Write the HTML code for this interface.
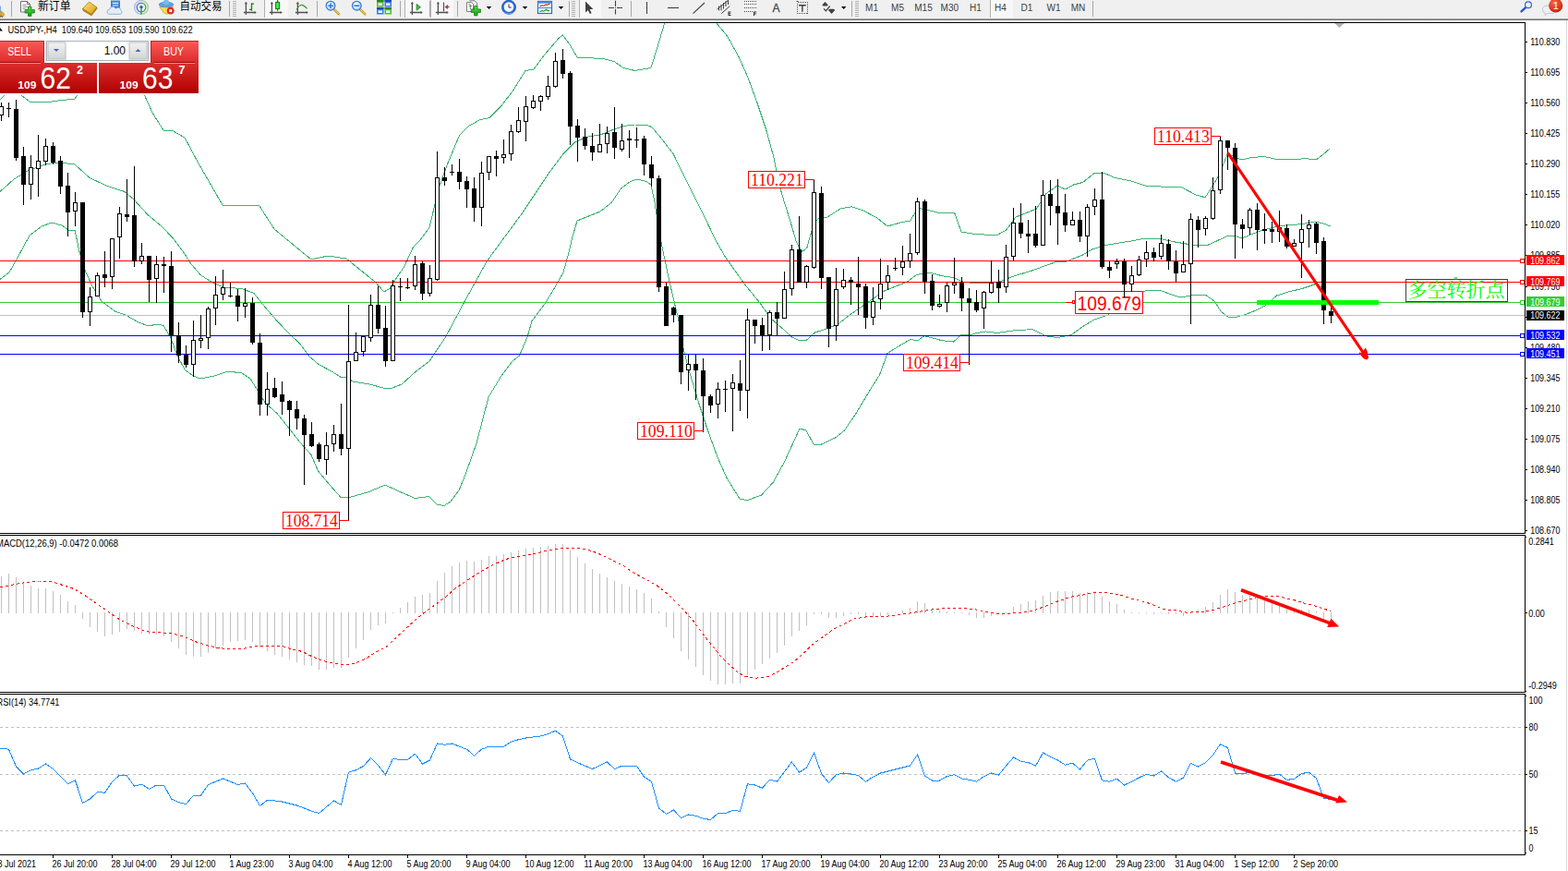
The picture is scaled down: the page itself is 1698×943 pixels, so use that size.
<!DOCTYPE html><html><head><meta charset="utf-8"><title>USDJPY H4</title>
<style>html,body{margin:0;padding:0;background:#fff;overflow:hidden}body{width:1698px;height:943px;position:relative;font-family:"Liberation Sans",sans-serif}svg{position:absolute;left:0;top:0;display:block}text{white-space:pre}</style>
</head><body>
<svg width="1698" height="943" viewBox="0 0 1698 943">
<defs>
<clipPath id="cpMain"><rect x="0" y="25" width="1651" height="552"/></clipPath>
<clipPath id="cpMacd"><rect x="0" y="580" width="1651" height="169"/></clipPath>
<clipPath id="cpRsi"><rect x="0" y="752" width="1651" height="173"/></clipPath>
<linearGradient id="gBtn" x1="0" y1="0" x2="0" y2="1"><stop offset="0" stop-color="#fb5a5a"/><stop offset="1" stop-color="#dc2b2b"/></linearGradient>
<linearGradient id="gBig" x1="0" y1="0" x2="0" y2="1"><stop offset="0" stop-color="#dc2e2e"/><stop offset="1" stop-color="#b00000"/></linearGradient>
<linearGradient id="gSpin" x1="0" y1="0" x2="0" y2="1"><stop offset="0" stop-color="#f2f2f2"/><stop offset="1" stop-color="#d4d4d4"/></linearGradient>
<linearGradient id="gTb" x1="0" y1="0" x2="0" y2="1"><stop offset="0" stop-color="#c0c0c0"/><stop offset="1" stop-color="#5a5a5a"/></linearGradient>

<linearGradient id="gGreen" x1="0" y1="0" x2="0" y2="1"><stop offset="0" stop-color="#5fe04a"/><stop offset="1" stop-color="#12a012"/></linearGradient>
<linearGradient id="gYel" x1="0" y1="0" x2="1" y2="1"><stop offset="0" stop-color="#ffe680"/><stop offset="1" stop-color="#d79a10"/></linearGradient>
<linearGradient id="gBlue" x1="0" y1="0" x2="0" y2="1"><stop offset="0" stop-color="#5aa8f0"/><stop offset="1" stop-color="#1858c8"/></linearGradient>
<radialGradient id="gLens" cx=".4" cy=".35" r=".7"><stop offset="0" stop-color="#ffffff"/><stop offset="1" stop-color="#a8d4f8"/></radialGradient>
<radialGradient id="gRed" cx=".4" cy=".3" r=".8"><stop offset="0" stop-color="#f46a4a"/><stop offset="1" stop-color="#c81808"/></radialGradient>

</defs>
<rect width="1698" height="943" fill="#fff"/>
<g clip-path="url(#cpMain)">
<polyline points="0.0,108.0 5.0,103.0 14.0,98.0 23.0,103.0 33.0,110.5 52.0,110.5 67.0,108.5 81.0,107.0 84.0,103.0 100.0,92.0 140.0,92.0 156.0,102.0 165.0,122.0 177.0,141.0 186.0,141.0 200.0,149.0 215.0,177.0 241.0,222.0 281.0,223.0 297.0,248.0 337.0,281.0 355.0,277.0 375.0,280.0 406.0,305.0 416.0,316.0 424.0,311.0 425.0,307.5 437.5,289.0 447.5,267.5 455.0,260.0 465.0,246.5 475.0,204.0 485.0,176.5 497.5,146.5 507.5,136.5 520.0,129.5 530.0,127.7 542.5,115.0 555.0,99.0 569.0,76.5 578.0,75.0 590.0,59.0 605.0,41.5 609.5,38.0 617.5,49.0 625.0,62.0 637.5,62.7 652.5,63.5 665.0,66.5 675.0,73.5 687.5,76.5 705.0,73.5 712.5,49.0 720.0,24.0 730.0,0.0 765.0,0.0 775.0,24.0 787.5,39.0 800.0,61.5 810.0,84.0 820.0,111.5 830.0,141.5 837.5,169.0 845.0,204.0 850.0,221.0 856.0,240.0 862.5,262.5 868.7,272.5 873.7,268.7 877.5,255.0 882.5,240.0 887.5,236.0 896.0,235.0 910.0,226.0 922.5,223.7 935.0,228.0 950.0,236.0 961.0,245.0 975.0,241.0 986.0,239.0 993.7,225.0 1002.5,227.0 1015.0,230.0 1033.7,230.7 1041.0,251.0 1057.5,253.7 1080.0,254.5 1090.0,248.7 1100.0,235.0 1112.5,230.0 1122.5,226.0 1132.5,210.0 1145.0,201.0 1153.7,205.0 1162.5,200.0 1172.5,197.5 1185.0,187.5 1195.0,187.0 1207.5,192.5 1225.0,196.0 1240.0,201.0 1265.0,202.5 1280.0,203.0 1295.0,211.0 1305.0,213.7 1312.5,202.5 1320.0,190.0 1329.5,166.0 1338.7,171.0 1345.0,173.0 1355.0,170.5 1368.7,169.5 1382.5,172.5 1400.0,172.5 1415.0,171.7 1425.0,173.0 1432.5,167.5 1440.5,160.5" fill="none" stroke="#3cb371" stroke-width="1" shape-rendering="crispEdges"/>
<polyline points="0.0,207.5 15.0,194.0 30.0,185.0 50.0,177.5 65.0,176.0 81.0,178.0 97.0,192.5 115.0,201.0 135.0,207.5 145.0,216.0 160.0,232.5 175.0,245.0 187.0,257.5 200.0,275.0 207.0,286.0 217.0,297.5 230.0,306.0 242.0,311.0 262.0,312.5 275.0,317.5 287.0,332.5 300.0,347.5 312.0,360.0 325.0,372.5 335.0,386.0 345.0,394.5 360.0,402.5 370.0,409.0 375.0,408.7 382.0,413.0 400.0,416.0 415.0,420.0 425.0,420.0 435.0,416.0 450.0,402.5 465.0,391.0 482.5,365.0 502.5,327.5 515.0,305.0 527.5,282.5 544.0,260.0 565.0,231.5 580.0,209.0 595.0,186.5 610.0,166.5 622.5,154.0 637.5,147.7 650.0,146.0 665.0,140.0 675.0,136.5 687.5,135.0 700.0,135.0 706.0,137.7 717.5,151.5 729.0,166.5 740.0,189.0 750.0,209.0 762.5,234.0 775.0,260.0 785.0,277.5 805.0,306.0 822.5,327.5 835.0,345.0 849.5,357.5 857.5,365.0 866.0,369.0 873.7,368.0 882.5,360.0 895.0,356.0 907.5,351.0 920.0,341.0 932.5,332.5 945.0,323.7 957.5,315.0 970.0,310.0 982.5,305.0 992.5,297.5 1002.5,295.5 1010.0,296.0 1020.0,298.7 1032.5,300.5 1042.5,305.0 1057.5,307.0 1070.0,306.7 1082.5,305.0 1092.5,301.0 1102.5,297.5 1117.5,293.0 1132.5,287.5 1145.0,283.0 1153.7,283.7 1162.5,280.0 1172.5,276.0 1182.5,270.0 1195.0,266.0 1207.5,263.7 1225.0,261.0 1240.0,258.0 1257.5,258.7 1272.5,262.0 1287.5,264.5 1297.5,266.0 1307.5,265.5 1317.5,261.0 1330.0,255.0 1338.7,256.0 1345.0,258.0 1355.0,253.7 1368.7,248.7 1380.0,246.0 1392.5,244.0 1405.0,243.0 1415.0,241.7 1425.0,240.0 1432.5,241.7 1440.5,245.0" fill="none" stroke="#3cb371" stroke-width="1" shape-rendering="crispEdges"/>
<polyline points="0.0,302.5 10.0,295.0 19.0,279.0 32.0,255.0 45.0,245.0 56.0,241.0 67.0,244.0 74.0,249.0 81.0,249.0 86.0,272.5 92.0,292.5 100.0,310.0 110.0,326.0 125.0,337.5 136.0,341.0 150.0,349.0 161.0,353.0 170.0,351.0 177.0,352.5 185.0,366.0 192.0,385.0 200.0,400.0 209.0,407.0 217.0,410.0 232.0,407.0 247.0,402.0 262.0,404.0 271.0,410.0 279.0,422.5 287.0,436.0 300.0,447.5 312.0,462.5 325.0,479.0 337.0,492.5 344.5,510.0 357.0,525.0 369.5,539.0 378.0,538.7 399.5,532.5 417.0,525.0 434.5,533.0 449.5,539.5 464.5,537.5 473.0,546.0 481.0,547.5 488.0,543.0 497.0,531.0 504.5,512.5 516.0,480.0 529.0,430.0 542.5,407.5 555.0,391.0 562.5,385.0 571.0,365.0 576.0,347.5 590.0,329.0 600.0,312.5 610.0,295.0 617.5,267.5 619.0,260.0 625.0,239.0 637.5,234.0 650.0,229.0 662.5,219.0 672.5,204.0 682.5,196.5 690.0,194.0 700.0,196.5 705.0,200.0 709.0,219.0 715.0,257.5 725.0,305.0 735.0,347.5 740.0,377.5 747.0,404.0 757.0,437.5 767.0,467.5 777.0,495.0 787.0,517.5 801.0,540.0 809.5,541.7 824.5,536.0 837.0,522.5 849.5,500.0 866.0,464.0 873.0,466.0 881.0,481.0 889.5,481.0 904.5,474.0 914.5,466.0 927.0,447.5 942.0,422.5 952.5,406.0 961.0,382.5 975.0,373.7 986.0,367.5 993.7,368.7 1001.0,363.7 1010.0,366.0 1020.0,368.7 1032.5,370.0 1041.0,362.5 1050.0,363.0 1057.5,360.5 1067.5,359.0 1080.0,360.5 1090.0,359.0 1100.0,357.5 1118.7,356.7 1132.5,363.7 1145.0,365.7 1160.0,362.5 1172.5,353.7 1185.0,346.0 1200.0,341.0 1212.5,330.0 1225.0,320.0 1240.0,315.0 1255.0,314.0 1265.0,317.5 1277.5,322.0 1290.0,320.0 1305.0,319.0 1315.0,326.0 1322.5,337.5 1330.0,343.0 1340.0,343.0 1350.0,340.0 1360.0,336.0 1370.0,331.0 1382.5,320.0 1395.0,316.0 1410.0,312.5 1425.0,307.5 1431.0,311.0" fill="none" stroke="#3cb371" stroke-width="1" shape-rendering="crispEdges"/>
<rect x="0" y="282" width="1651" height="1" fill="#ff0000"/>
<rect x="0" y="305" width="1651" height="1" fill="#ff0000"/>
<rect x="0" y="327" width="1651" height="1" fill="#32cd32"/>
<rect x="0" y="341" width="1651" height="1" fill="#c0c0c0"/>
<rect x="0" y="363" width="1651" height="1" fill="#0000ff"/>
<rect x="0" y="383" width="1651" height="1" fill="#0000ff"/>
<rect x="1154" y="327" width="10" height="1" fill="#ff0000"/>
<rect x="1164.5" y="315.5" width="73" height="24" fill="#fff" stroke="#ff0000" stroke-width="1" shape-rendering="crispEdges"/>
<text x="1166.6" y="336" font-family="Liberation Sans, sans-serif" font-size="22" fill="#ff0000" textLength="69.3" lengthAdjust="spacingAndGlyphs">109.679</text>
<rect x="1161.5" y="325.5" width="2" height="3" fill="#fff" stroke="#ff0000" stroke-width="1" shape-rendering="crispEdges"/>
<g shape-rendering="crispEdges">
<path d="M1 111v20M9 111v16M17 108v66M25 159v63M33 168v48M41 146v67M49 150v29M57 154v24M65 169v41M73 187v69M81 208v37M89 219v125M97 311v42M105 295v26M113 272v39M121 258v55M129 224v56M137 194v46M145 180v109M153 263v23M161 277v50M169 277v51M177 278v39M185 272v109M193 349v44M201 374v24M209 347v61M217 341v36M225 332v46M233 299v53M241 292v33M249 306v16M257 313v35M265 312v32M273 322v51M281 361v89M289 403v47M297 409v22M305 413v36M313 433v39M321 434v31M329 449v76M337 457v27M345 479v21M353 468v46M361 460v29M369 437v56M377 330v234M385 360v31M393 364v22M401 319v51M409 310v51M417 331v66M425 303v88M433 301v25M441 301v12M449 277v37M457 283v42M465 287v34M473 164v140M481 181v20M489 178v12M497 172v33M505 191v34M513 192v48M521 175v70M529 169v26M537 163v28M545 151v26M553 135v39M561 116v28M569 104v49M577 103v15M585 103v17M593 82v26M601 57v38M609 53v32M617 77v80M625 129v46M633 139v23M641 144v30M649 134v31M657 137v29M665 116v56M673 134v30M681 141v30M689 138v22M697 147v43M705 169v33M713 190v126M721 306v47M729 332v17M737 341v75M745 384v39M753 384v49M761 388v80M769 427v20M777 414v39M785 412v34M793 405v62M801 390v55M809 334v119M817 346v26M825 344v36M833 336v43M841 327v36M849 294v51M857 265v55M865 234v72M873 287v25M881 194v97M889 202v111M897 300v76M905 290v79M913 291v22M921 300v30M929 278v63M937 307v49M945 311v41M953 280v55M961 287v27M969 279v14M977 266v32M985 253v37M993 214v62M1001 216v102M1009 297v39M1017 319v14M1025 306v32M1033 279v39M1041 300v37M1049 312v83M1057 314v24M1065 315v41M1073 282v36M1081 292v36M1089 265v52M1097 225v58M1105 220v38M1113 238v36M1121 223v45M1129 195v71M1137 195v49M1145 194v71M1153 210v41M1161 229v15M1169 229v33M1177 221v57M1185 204v29M1193 186v105M1201 283v18M1209 280v11M1217 280v42M1225 288v28M1233 277v22M1241 261v28M1249 268v15M1257 254v27M1265 259v33M1273 271v34M1281 261v34M1289 231v120M1297 234v34M1305 234v21M1313 192v46M1321 147v63M1329 152v32M1337 155v125M1345 237v32M1353 225v29M1361 220v51M1369 231v33M1377 240v23M1385 228v34M1393 243v26M1401 259v8M1409 232v69M1417 238v30M1425 240v35M1433 257v94M1441 333v17" stroke="#000" stroke-width="1" fill="none" transform="translate(0.5,0)"/>
<path d="M7 117h5v1h-5zM15 118h5v53h-5zM23 169h5v31h-5zM55 158h5v18h-5zM63 174h5v28h-5zM71 201h5v29h-5zM87 219h5v119h-5zM111 297h5v4h-5zM135 232h5v3h-5zM143 233h5v50h-5zM159 277h5v26h-5zM175 286h5v2h-5zM183 288h5v75h-5zM191 363h5v22h-5zM199 384h5v11h-5zM247 320h5v1h-5zM255 320h5v12h-5zM271 328h5v43h-5zM279 371h5v67h-5zM295 420h5v10h-5zM303 427h5v8h-5zM311 434h5v10h-5zM319 443h5v10h-5zM327 453h5v18h-5zM335 470h5v13h-5zM343 481h5v16h-5zM367 470h5v16h-5zM407 330h5v26h-5zM415 355h5v36h-5zM431 310h5v1h-5zM439 311h5v1h-5zM455 285h5v33h-5zM479 192h5v4h-5zM487 186h5v1h-5zM495 186h5v11h-5zM503 196h5v9h-5zM511 204h5v21h-5zM535 169h5v3h-5zM607 65h5v15h-5zM615 79h5v58h-5zM623 136h5v13h-5zM631 148h5v10h-5zM639 158h5v7h-5zM663 143h5v17h-5zM679 150h5v2h-5zM687 151h5v1h-5zM695 150h5v28h-5zM703 178h5v15h-5zM711 193h5v118h-5zM719 310h5v43h-5zM727 333h5v8h-5zM735 341h5v62h-5zM751 394h5v7h-5zM759 401h5v28h-5zM767 429h5v10h-5zM783 421h5v1h-5zM799 415h5v8h-5zM815 346h5v7h-5zM823 352h5v11h-5zM839 338h5v7h-5zM863 270h5v36h-5zM887 209h5v92h-5zM895 300h5v56h-5zM919 303h5v3h-5zM927 307h5v4h-5zM935 310h5v34h-5zM967 290h5v1h-5zM999 218h5v87h-5zM1007 304h5v27h-5zM1039 306h5v17h-5zM1047 323h5v5h-5zM1055 327h5v9h-5zM1079 305h5v7h-5zM1103 241h5v12h-5zM1111 253h5v3h-5zM1119 253h5v13h-5zM1135 210h5v13h-5zM1143 223h5v8h-5zM1151 230h5v14h-5zM1167 238h5v18h-5zM1191 216h5v73h-5zM1199 289h5v4h-5zM1215 283h5v25h-5zM1247 273h5v6h-5zM1263 264h5v19h-5zM1271 283h5v13h-5zM1295 238h5v11h-5zM1327 152h5v8h-5zM1335 160h5v83h-5zM1343 243h5v5h-5zM1359 227h5v22h-5zM1367 248h5v2h-5zM1375 248h5v3h-5zM1391 247h5v20h-5zM1423 242h5v21h-5zM1431 261h5v75h-5zM1439 337h5v5h-5z" fill="#000"/>
<path d="M-1 115h5v10h-5zM31 181h5v19h-5zM39 174h5v9h-5zM47 158h5v17h-5zM79 219h5v10h-5zM95 321h5v17h-5zM103 298h5v23h-5zM119 258h5v42h-5zM127 231h5v26h-5zM151 277h5v6h-5zM167 286h5v16h-5zM207 368h5v27h-5zM215 366h5v3h-5zM223 334h5v32h-5zM231 319h5v15h-5zM239 311h5v8h-5zM263 328h5v4h-5zM287 421h5v17h-5zM351 482h5v16h-5zM359 470h5v11h-5zM375 391h5v95h-5zM383 381h5v10h-5zM391 364h5v17h-5zM399 330h5v36h-5zM423 309h5v82h-5zM447 286h5v24h-5zM463 301h5v17h-5zM471 192h5v111h-5zM519 187h5v38h-5zM527 169h5v18h-5zM543 167h5v4h-5zM551 142h5v25h-5zM559 130h5v13h-5zM567 115h5v17h-5zM575 109h5v8h-5zM583 104h5v6h-5zM591 93h5v12h-5zM599 66h5v28h-5zM647 156h5v9h-5zM655 144h5v12h-5zM671 152h5v10h-5zM743 394h5v7h-5zM775 421h5v17h-5zM791 414h5v7h-5zM807 346h5v77h-5zM831 338h5v25h-5zM847 313h5v32h-5zM855 270h5v43h-5zM871 288h5v18h-5zM879 208h5v82h-5zM903 313h5v40h-5zM911 303h5v8h-5zM943 326h5v18h-5zM951 307h5v17h-5zM959 298h5v8h-5zM975 283h5v7h-5zM983 274h5v9h-5zM991 218h5v56h-5zM1015 329h5v3h-5zM1023 309h5v19h-5zM1031 306h5v3h-5zM1063 316h5v18h-5zM1071 306h5v11h-5zM1087 278h5v33h-5zM1095 241h5v37h-5zM1127 211h5v55h-5zM1159 238h5v6h-5zM1175 224h5v32h-5zM1183 216h5v8h-5zM1207 283h5v3h-5zM1223 298h5v10h-5zM1231 281h5v17h-5zM1239 273h5v8h-5zM1255 263h5v15h-5zM1279 286h5v9h-5zM1287 237h5v49h-5zM1303 236h5v12h-5zM1311 206h5v31h-5zM1319 152h5v54h-5zM1351 227h5v20h-5zM1383 246h5v5h-5zM1399 263h5v4h-5zM1407 248h5v15h-5zM1415 243h5v5h-5z" fill="#000"/>
<path d="M0 116h3v8h-3zM32 182h3v17h-3zM40 175h3v7h-3zM48 159h3v15h-3zM80 220h3v8h-3zM96 322h3v15h-3zM104 299h3v21h-3zM120 259h3v40h-3zM128 232h3v24h-3zM152 278h3v4h-3zM168 287h3v14h-3zM208 369h3v25h-3zM216 367h3v1h-3zM224 335h3v30h-3zM232 320h3v13h-3zM240 312h3v6h-3zM264 329h3v2h-3zM288 422h3v15h-3zM352 483h3v14h-3zM360 471h3v9h-3zM376 392h3v93h-3zM384 382h3v8h-3zM392 365h3v15h-3zM400 331h3v34h-3zM424 310h3v80h-3zM448 287h3v22h-3zM464 302h3v15h-3zM472 193h3v109h-3zM520 188h3v36h-3zM528 170h3v16h-3zM544 168h3v2h-3zM552 143h3v23h-3zM560 131h3v11h-3zM568 116h3v15h-3zM576 110h3v6h-3zM584 105h3v4h-3zM592 94h3v10h-3zM600 67h3v26h-3zM648 157h3v7h-3zM656 145h3v10h-3zM672 153h3v8h-3zM744 395h3v5h-3zM776 422h3v15h-3zM792 415h3v5h-3zM808 347h3v75h-3zM832 339h3v23h-3zM848 314h3v30h-3zM856 271h3v41h-3zM872 289h3v16h-3zM880 209h3v80h-3zM904 314h3v38h-3zM912 304h3v6h-3zM944 327h3v16h-3zM952 308h3v15h-3zM960 299h3v6h-3zM976 284h3v5h-3zM984 275h3v7h-3zM992 219h3v54h-3zM1016 330h3v1h-3zM1024 310h3v17h-3zM1032 307h3v1h-3zM1064 317h3v16h-3zM1072 307h3v9h-3zM1088 279h3v31h-3zM1096 242h3v35h-3zM1128 212h3v53h-3zM1160 239h3v4h-3zM1176 225h3v30h-3zM1184 217h3v6h-3zM1208 284h3v1h-3zM1224 299h3v8h-3zM1232 282h3v15h-3zM1240 274h3v6h-3zM1256 264h3v13h-3zM1280 287h3v7h-3zM1288 238h3v47h-3zM1304 237h3v10h-3zM1312 207h3v29h-3zM1320 153h3v52h-3zM1352 228h3v18h-3zM1384 247h3v3h-3zM1400 264h3v2h-3zM1408 249h3v13h-3zM1416 244h3v3h-3z" fill="#fff"/>
</g>
</g>
<rect x="306.5" y="554.5" width="61" height="18" fill="#fff" stroke="#ff0000" stroke-width="1" shape-rendering="crispEdges"/>
<text x="309.0" y="570.0" font-family="Liberation Serif, serif" font-size="19.5" fill="#ff0000" textLength="56.8" lengthAdjust="spacingAndGlyphs">108.714</text>
<rect x="368" y="563" width="10" height="1" fill="#ff0000"/>
<rect x="690.5" y="457.5" width="61" height="18" fill="#fff" stroke="#ff0000" stroke-width="1" shape-rendering="crispEdges"/>
<text x="693.0" y="473.0" font-family="Liberation Serif, serif" font-size="19.5" fill="#ff0000" textLength="56.8" lengthAdjust="spacingAndGlyphs">109.110</text>
<rect x="752" y="466" width="10" height="1" fill="#ff0000"/>
<rect x="810.5" y="185.5" width="61" height="18" fill="#fff" stroke="#ff0000" stroke-width="1" shape-rendering="crispEdges"/>
<text x="813.0" y="201.0" font-family="Liberation Serif, serif" font-size="19.5" fill="#ff0000" textLength="56.8" lengthAdjust="spacingAndGlyphs">110.221</text>
<rect x="872" y="194" width="10" height="1" fill="#ff0000"/>
<rect x="978.5" y="383.5" width="61" height="18" fill="#fff" stroke="#ff0000" stroke-width="1" shape-rendering="crispEdges"/>
<text x="981.0" y="399.0" font-family="Liberation Serif, serif" font-size="19.5" fill="#ff0000" textLength="56.8" lengthAdjust="spacingAndGlyphs">109.414</text>
<rect x="1040" y="392" width="10" height="1" fill="#ff0000"/>
<rect x="1250.5" y="138.5" width="61" height="18" fill="#fff" stroke="#ff0000" stroke-width="1" shape-rendering="crispEdges"/>
<text x="1253.0" y="154.0" font-family="Liberation Serif, serif" font-size="19.5" fill="#ff0000" textLength="56.8" lengthAdjust="spacingAndGlyphs">110.413</text>
<rect x="1312" y="147" width="10" height="1" fill="#ff0000"/>
<rect x="1361" y="325" width="132" height="5" fill="#00ff00"/>
<line x1="1329.5" y1="165.3" x2="1478" y2="384.3" stroke="#ff0000" stroke-width="3.1"/>
<path d="M1480.4 389.4 L1482 387.2 L1480.8 380.8 L1478.6 376.2 L1476.8 379.5 L1475 382 L1471.2 381.6 L1474 385.2 L1477.2 388.6 Z" fill="#ff0000"/>
<rect x="1522.5" y="302.5" width="110" height="24" fill="#fff" stroke="#404040" stroke-width="1"/>
<rect x="1522" y="305" width="111" height="1" fill="#ff0000"/>
<path d="M1575.5 302.5v-2h2v2" stroke="#32cd32" stroke-width="1" fill="none"/>
<text x="1524.5" y="321" font-family="'Liberation Serif', 'Noto Serif CJK SC', serif" font-size="21" fill="#00ff00" textLength="105" lengthAdjust="spacingAndGlyphs">多空转折点</text>
<g fill="#000" shape-rendering="crispEdges">
<rect x="0" y="24" width="1652" height="1"/>
<rect x="1651" y="24" width="1" height="902"/>
<rect x="0" y="577" width="1652" height="1"/>
<rect x="0" y="579" width="1652" height="1"/>
<rect x="0" y="749" width="1652" height="1"/>
<rect x="0" y="751" width="1652" height="1"/>
<rect x="0" y="925" width="1652" height="1"/>
</g>
<rect x="0" y="578" width="1652" height="1" fill="#fff"/>
<rect x="0" y="750" width="1652" height="1" fill="#fff"/>
<path d="M1445 25h11l-5.5 5z" fill="#b0b0b0"/>
<rect x="1696" y="22" width="1" height="921" fill="#d8d8d8"/>
<g font-family="Liberation Sans, sans-serif" font-size="9" fill="#000">
<rect x="1652" y="45" width="2" height="1" fill="#000"/>
<text x="1657.2" y="49" font-size="10" fill="#000" textLength="32.2" lengthAdjust="spacingAndGlyphs">110.830</text>
<rect x="1652" y="78" width="2" height="1" fill="#000"/>
<text x="1657.2" y="82" font-size="10" fill="#000" textLength="32.2" lengthAdjust="spacingAndGlyphs">110.695</text>
<rect x="1652" y="111" width="2" height="1" fill="#000"/>
<text x="1657.2" y="115" font-size="10" fill="#000" textLength="32.2" lengthAdjust="spacingAndGlyphs">110.560</text>
<rect x="1652" y="144" width="2" height="1" fill="#000"/>
<text x="1657.2" y="148" font-size="10" fill="#000" textLength="32.2" lengthAdjust="spacingAndGlyphs">110.425</text>
<rect x="1652" y="177" width="2" height="1" fill="#000"/>
<text x="1657.2" y="181" font-size="10" fill="#000" textLength="32.2" lengthAdjust="spacingAndGlyphs">110.290</text>
<rect x="1652" y="210" width="2" height="1" fill="#000"/>
<text x="1657.2" y="214" font-size="10" fill="#000" textLength="32.2" lengthAdjust="spacingAndGlyphs">110.155</text>
<rect x="1652" y="243" width="2" height="1" fill="#000"/>
<text x="1657.2" y="247" font-size="10" fill="#000" textLength="32.2" lengthAdjust="spacingAndGlyphs">110.020</text>
<rect x="1652" y="276" width="2" height="1" fill="#000"/>
<text x="1657.2" y="280" font-size="10" fill="#000" textLength="32.2" lengthAdjust="spacingAndGlyphs">109.885</text>
<rect x="1652" y="310" width="2" height="1" fill="#000"/>
<text x="1657.2" y="314" font-size="10" fill="#000" textLength="32.2" lengthAdjust="spacingAndGlyphs">109.750</text>
<rect x="1652" y="343" width="2" height="1" fill="#000"/>
<text x="1657.2" y="347" font-size="10" fill="#000" textLength="32.2" lengthAdjust="spacingAndGlyphs">109.615</text>
<rect x="1652" y="376" width="2" height="1" fill="#000"/>
<text x="1657.2" y="380" font-size="10" fill="#000" textLength="32.2" lengthAdjust="spacingAndGlyphs">109.480</text>
<rect x="1652" y="409" width="2" height="1" fill="#000"/>
<text x="1657.2" y="413" font-size="10" fill="#000" textLength="32.2" lengthAdjust="spacingAndGlyphs">109.345</text>
<rect x="1652" y="442" width="2" height="1" fill="#000"/>
<text x="1657.2" y="446" font-size="10" fill="#000" textLength="32.2" lengthAdjust="spacingAndGlyphs">109.210</text>
<rect x="1652" y="475" width="2" height="1" fill="#000"/>
<text x="1657.2" y="479" font-size="10" fill="#000" textLength="32.2" lengthAdjust="spacingAndGlyphs">109.075</text>
<rect x="1652" y="508" width="2" height="1" fill="#000"/>
<text x="1657.2" y="512" font-size="10" fill="#000" textLength="32.2" lengthAdjust="spacingAndGlyphs">108.940</text>
<rect x="1652" y="541" width="2" height="1" fill="#000"/>
<text x="1657.2" y="545" font-size="10" fill="#000" textLength="32.2" lengthAdjust="spacingAndGlyphs">108.805</text>
<rect x="1652" y="574" width="2" height="1" fill="#000"/>
<text x="1657.2" y="578" font-size="10" fill="#000" textLength="32.2" lengthAdjust="spacingAndGlyphs">108.670</text>
</g>
<rect x="1653" y="276" width="41" height="11" fill="#ff0000"/>
<g font-family="Liberation Sans, sans-serif"><text x="1657.2" y="285.5" font-size="10" fill="#fff" textLength="32.2" lengthAdjust="spacingAndGlyphs">109.862</text></g>
<rect x="1646.5" y="280.5" width="4" height="4" fill="#fff" stroke="#ff0000" stroke-width="1" shape-rendering="crispEdges"/>
<rect x="1653" y="299" width="41" height="11" fill="#ff0000"/>
<g font-family="Liberation Sans, sans-serif"><text x="1657.2" y="308.5" font-size="10" fill="#fff" textLength="32.2" lengthAdjust="spacingAndGlyphs">109.769</text></g>
<rect x="1646.5" y="303.5" width="4" height="4" fill="#fff" stroke="#ff0000" stroke-width="1" shape-rendering="crispEdges"/>
<rect x="1653" y="321" width="41" height="11" fill="#32cd32"/>
<g font-family="Liberation Sans, sans-serif"><text x="1657.2" y="330.5" font-size="10" fill="#fff" textLength="32.2" lengthAdjust="spacingAndGlyphs">109.679</text></g>
<rect x="1646.5" y="325.5" width="4" height="4" fill="#fff" stroke="#32cd32" stroke-width="1" shape-rendering="crispEdges"/>
<rect x="1653" y="336" width="41" height="11" fill="#000000"/>
<g font-family="Liberation Sans, sans-serif"><text x="1657.2" y="345" font-size="10" fill="#fff" textLength="32.2" lengthAdjust="spacingAndGlyphs">109.622</text></g>
<rect x="1653" y="357" width="41" height="11" fill="#0000ff"/>
<g font-family="Liberation Sans, sans-serif"><text x="1657.2" y="366.5" font-size="10" fill="#fff" textLength="32.2" lengthAdjust="spacingAndGlyphs">109.532</text></g>
<rect x="1646.5" y="361.5" width="4" height="4" fill="#fff" stroke="#0000ff" stroke-width="1" shape-rendering="crispEdges"/>
<rect x="1653" y="377" width="41" height="11" fill="#0000ff"/>
<g font-family="Liberation Sans, sans-serif"><text x="1657.2" y="386.5" font-size="10" fill="#fff" textLength="32.2" lengthAdjust="spacingAndGlyphs">109.451</text></g>
<rect x="1646.5" y="381.5" width="4" height="4" fill="#fff" stroke="#0000ff" stroke-width="1" shape-rendering="crispEdges"/>
<g clip-path="url(#cpMacd)">
<path d="M1 624v40M9 621v43M17 625v39M25 630v34M33 634v30M41 637v27M49 637v27M57 640v24M65 644v20M73 651v13M81 655v9M89 663v7M97 663v16M105 663v21M113 663v26M121 663v24M129 663v21M137 663v18M145 663v20M153 663v23M161 663v24M169 663v24M177 663v26M185 663v32M193 663v39M201 663v46M209 663v48M217 663v48M225 663v44M233 663v39M241 663v36M249 663v32M257 663v31M265 663v30M273 663v32M281 663v38M289 663v42M297 663v46M305 663v48M313 663v51M321 663v54M329 663v57M337 663v58M345 663v62M353 663v62M361 663v60M369 663v60M377 663v49M385 663v39M393 663v30M401 663v19M409 663v14M417 663v12M425 663v1M433 658v6M441 652v12M449 646v18M457 644v20M465 642v22M473 629v35M481 620v44M489 613v51M497 609v55M505 607v57M513 608v56M521 606v58M529 602v62M537 602v62M545 600v64M553 598v66M561 596v68M569 594v70M577 593v71M585 592v72M593 591v73M601 589v75M609 589v75M617 596v68M625 603v61M633 610v54M641 616v48M649 621v43M657 625v39M665 629v35M673 632v32M681 635v29M689 638v26M697 642v22M705 648v16M713 662v2M721 663v16M729 663v28M737 663v42M745 663v51M753 663v59M761 663v68M769 663v74M777 663v78M785 663v78M793 663v77M801 663v77M809 663v68M817 663v62M825 663v56M833 663v50M841 663v44M849 663v36M857 663v26M865 663v20M873 663v14M881 663v2M889 663v2M897 663v6M905 663v6M913 663v4M921 663v2M929 663v2M937 663v6M945 663v5M953 663v4M961 663v3M969 663v1M977 661v3M985 658v6M993 651v13M1001 653v11M1009 658v6M1017 661v3M1025 662v2M1033 663v1M1041 663v1M1049 663v3M1057 663v6M1065 663v6M1073 663v4M1081 663v2M1089 663v1M1097 657v7M1105 654v10M1113 651v13M1121 650v14M1129 645v19M1137 641v23M1145 640v24M1153 640v24M1161 640v24M1169 642v22M1177 641v23M1185 640v24M1193 646v18M1201 651v13M1209 654v10M1217 660v4M1225 663v1M1233 663v1M1241 663v1M1249 663v2M1257 663v1M1265 663v2M1273 663v2M1281 663v4M1289 662v2M1297 660v4M1305 657v7M1313 652v12M1321 644v20M1329 638v26M1337 641v23M1345 644v20M1353 644v20M1361 645v19M1369 649v15M1377 651v13M1385 654v10M1393 657v7M1401 659v5M1409 660v4M1417 660v4M1425 662v2M1433 663v8M1441 663v14" stroke="#c0c0c0" stroke-width="1" fill="none" transform="translate(0.5,0)" shape-rendering="crispEdges"/>
<polyline points="0.0,636.0 10.0,633.7 25.0,631.0 42.5,629.0 52.5,629.0 65.0,632.5 80.0,637.5 92.5,645.0 105.0,653.7 117.5,662.5 130.0,671.0 142.5,677.5 155.0,682.5 162.5,684.5 175.0,685.0 187.5,686.0 200.0,689.5 212.5,695.0 225.0,699.0 237.5,701.7 252.5,703.0 265.0,702.0 277.5,699.0 292.5,699.0 305.0,699.5 315.0,702.5 327.5,705.5 337.5,710.5 350.0,715.5 360.0,718.0 370.0,719.5 382.5,718.7 395.0,713.7 407.5,706.0 419.5,699.5 432.0,687.5 444.5,676.0 457.0,665.0 469.5,656.0 482.0,646.7 494.5,636.0 507.0,627.5 519.5,619.5 534.5,611.0 552.0,604.0 569.5,601.0 582.0,598.7 594.5,595.5 610.0,593.7 627.5,593.5 640.0,596.2 652.5,601.2 665.0,607.5 675.0,612.5 685.0,619.5 697.5,626.2 710.0,633.0 720.0,640.5 730.0,650.0 740.0,660.0 750.0,671.2 760.0,685.0 770.0,697.5 780.0,710.0 790.0,720.0 800.0,728.7 807.5,732.5 817.5,734.2 830.0,733.2 840.0,728.7 850.0,722.5 860.0,716.2 870.0,707.5 880.0,697.5 892.5,688.7 902.5,681.2 915.0,675.0 925.0,670.0 937.5,668.0 950.0,667.5 962.5,667.0 975.0,665.5 990.0,663.2 1005.0,660.7 1012.5,659.5 1025.0,658.0 1045.0,658.2 1060.0,660.5 1072.5,663.7 1087.5,665.0 1100.0,663.7 1117.5,661.7 1132.5,656.2 1145.0,651.2 1160.0,646.2 1175.0,643.7 1186.0,641.5 1197.5,641.5 1212.5,643.7 1225.0,648.0 1240.0,651.7 1250.0,655.5 1260.0,659.5 1272.5,660.7 1285.0,663.2 1302.5,662.5 1315.0,660.0 1327.5,656.2 1340.0,652.0 1352.5,649.2 1362.5,646.2 1375.0,645.5 1380.0,645.0 1390.0,647.0 1402.5,650.0 1412.5,653.2 1424.5,656.2 1433.0,659.0 1440.6,661.2" fill="none" stroke="#ff0000" stroke-width="1" stroke-dasharray="3,3" shape-rendering="crispEdges"/>
<line x1="1344" y1="638.8" x2="1440" y2="674.6" stroke="#ff0000" stroke-width="3.6"/>
<path d="M1450.2 678.6 L1441.4 669.7 L1437.2 679 Z" fill="#ff0000"/>
</g>
<g font-family="Liberation Sans, sans-serif"><text x="-4" y="592" font-size="10" fill="#000" textLength="132.0" lengthAdjust="spacingAndGlyphs">MACD(12,26,9) -0.0472 0.0068</text></g>
<g font-family="Liberation Sans, sans-serif" font-size="9" fill="#000">
<rect x="1652" y="581" width="1" height="1" fill="#000"/>
<text x="1655.2" y="590" font-size="10" fill="#000" textLength="27.5" lengthAdjust="spacingAndGlyphs">0.2841</text>
<rect x="1652" y="663" width="2" height="1" fill="#000"/>
<text x="1655.2" y="667.5" font-size="10" fill="#000" textLength="17.5" lengthAdjust="spacingAndGlyphs">0.00</text>
<rect x="1652" y="748" width="1" height="1" fill="#000"/>
<text x="1655.2" y="746" font-size="10" fill="#000" textLength="30.5" lengthAdjust="spacingAndGlyphs">-0.2949</text>
</g>
<g clip-path="url(#cpRsi)">
<line x1="0" y1="787.5" x2="1651" y2="787.5" stroke="#c0c0c0" stroke-width="1" stroke-dasharray="3,3" shape-rendering="crispEdges"/>
<line x1="0" y1="838.5" x2="1651" y2="838.5" stroke="#c0c0c0" stroke-width="1" stroke-dasharray="3,3" shape-rendering="crispEdges"/>
<line x1="0" y1="899.5" x2="1651" y2="899.5" stroke="#c0c0c0" stroke-width="1" stroke-dasharray="3,3" shape-rendering="crispEdges"/>
<polyline points="-1.0,810.0 1.5,810.0 9.5,811.2 17.5,830.0 25.5,838.0 33.5,833.7 41.5,832.0 49.5,827.0 57.5,832.5 65.5,840.7 73.5,848.7 81.5,845.0 89.5,869.2 97.5,865.0 105.5,857.5 113.5,858.2 121.5,846.2 129.5,839.2 137.5,840.0 145.5,851.2 153.5,849.2 161.5,854.2 169.5,850.0 177.5,850.0 185.5,865.0 193.5,868.7 201.5,870.5 209.5,861.2 217.5,861.2 225.5,849.5 233.5,846.2 241.5,843.0 249.5,846.2 257.5,849.5 265.5,848.0 273.5,858.7 281.5,872.5 289.5,866.2 297.5,867.0 305.5,868.0 313.5,870.0 321.5,872.0 329.5,875.0 337.5,878.2 345.5,880.5 353.5,873.7 361.5,867.0 369.5,871.2 377.5,836.2 385.5,833.7 393.5,829.5 401.5,820.7 409.5,828.7 417.5,838.7 425.5,821.2 433.5,822.5 441.5,822.5 449.5,816.2 457.5,827.0 465.5,823.0 473.5,805.0 481.5,806.2 489.5,805.0 497.5,808.2 505.5,811.2 513.5,818.2 521.5,811.2 529.5,808.2 537.5,808.2 545.5,808.2 553.5,803.2 561.5,800.7 569.5,799.0 577.5,798.0 585.5,797.0 593.5,794.5 601.5,791.2 609.5,797.0 617.5,822.0 625.5,825.7 633.5,829.2 641.5,832.5 649.5,828.7 657.5,825.0 665.5,832.5 673.5,829.2 681.5,829.2 689.5,829.2 697.5,841.2 705.5,846.2 713.5,875.0 721.5,881.2 729.5,877.0 737.5,885.5 745.5,882.0 753.5,883.2 761.5,886.2 769.5,887.5 777.5,880.5 785.5,880.5 793.5,877.5 801.5,878.2 809.5,848.7 817.5,850.0 825.5,853.2 833.5,844.2 841.5,846.2 849.5,835.5 857.5,825.0 865.5,836.2 873.5,831.2 881.5,815.0 889.5,837.5 897.5,847.5 905.5,838.7 913.5,837.0 921.5,838.0 929.5,839.5 937.5,846.2 945.5,841.2 953.5,837.0 961.5,835.0 969.5,833.0 977.5,831.0 985.5,829.0 993.5,817.0 1001.5,840.0 1009.5,845.0 1017.5,845.0 1025.5,840.5 1033.5,838.7 1041.5,843.0 1049.5,844.2 1057.5,846.2 1065.5,840.7 1073.5,837.0 1081.5,839.2 1089.5,829.2 1097.5,820.0 1105.5,824.2 1113.5,825.5 1121.5,829.2 1129.5,815.0 1137.5,819.2 1145.5,823.0 1153.5,828.2 1161.5,826.2 1169.5,833.0 1177.5,823.2 1185.5,821.2 1193.5,845.0 1201.5,846.2 1209.5,843.2 1217.5,850.0 1225.5,846.2 1233.5,842.0 1241.5,838.2 1249.5,840.0 1257.5,835.0 1265.5,841.7 1273.5,846.2 1281.5,842.0 1289.5,826.2 1297.5,830.0 1305.5,825.7 1313.5,817.5 1321.5,805.7 1329.5,809.5 1337.5,837.0 1345.5,838.0 1353.5,836.0 1361.5,837.5 1369.5,839.5 1377.5,839.5 1385.5,838.2 1393.5,844.5 1401.5,843.2 1409.5,837.5 1417.5,836.2 1425.5,842.5 1433.5,864.5 1441.5,865.5" fill="none" stroke="#1e90ff" stroke-width="1" shape-rendering="crispEdges"/>
<line x1="1322" y1="825" x2="1448" y2="866.2" stroke="#ff0000" stroke-width="3.6"/>
<path d="M1459 868.6 L1450 861 L1446.4 869.4 Z" fill="#ff0000"/>
</g>
<g font-family="Liberation Sans, sans-serif"><text x="-3.5" y="764" font-size="10" fill="#000" textLength="68.0" lengthAdjust="spacingAndGlyphs">RSI(14) 34.7741</text></g>
<g font-family="Liberation Sans, sans-serif" font-size="9" fill="#000">
<rect x="1652" y="753" width="1" height="1" fill="#000"/>
<text x="1655.6" y="762" font-size="10" fill="#000" textLength="15.0" lengthAdjust="spacingAndGlyphs">100</text>
<rect x="1652" y="787" width="2" height="1" fill="#000"/>
<text x="1655.6" y="791" font-size="10" fill="#000" textLength="10.0" lengthAdjust="spacingAndGlyphs">80</text>
<rect x="1652" y="838" width="2" height="1" fill="#000"/>
<text x="1655.6" y="842" font-size="10" fill="#000" textLength="10.0" lengthAdjust="spacingAndGlyphs">50</text>
<rect x="1652" y="899" width="2" height="1" fill="#000"/>
<text x="1655.6" y="903" font-size="10" fill="#000" textLength="10.0" lengthAdjust="spacingAndGlyphs">15</text>
<rect x="1652" y="923" width="1" height="1" fill="#000"/>
<text x="1655.6" y="922" font-size="10" fill="#000" textLength="5.0" lengthAdjust="spacingAndGlyphs">0</text>
</g>
<g font-family="Liberation Sans, sans-serif" font-size="9" fill="#000">
<rect x="-7" y="926" width="1" height="3" fill="#000"/>
<text x="-7.5" y="938.5" font-size="10" fill="#000" textLength="46.5" lengthAdjust="spacingAndGlyphs">23 Jul 2021</text>
<rect x="57" y="926" width="1" height="3" fill="#000"/>
<text x="56.5" y="938.5" font-size="10" fill="#000" textLength="49.0" lengthAdjust="spacingAndGlyphs">26 Jul 20:00</text>
<rect x="121" y="926" width="1" height="3" fill="#000"/>
<text x="120.5" y="938.5" font-size="10" fill="#000" textLength="49.0" lengthAdjust="spacingAndGlyphs">28 Jul 04:00</text>
<rect x="185" y="926" width="1" height="3" fill="#000"/>
<text x="184.5" y="938.5" font-size="10" fill="#000" textLength="49.0" lengthAdjust="spacingAndGlyphs">29 Jul 12:00</text>
<rect x="249" y="926" width="1" height="3" fill="#000"/>
<text x="248.5" y="938.5" font-size="10" fill="#000" textLength="48.0" lengthAdjust="spacingAndGlyphs">1 Aug 23:00</text>
<rect x="313" y="926" width="1" height="3" fill="#000"/>
<text x="312.5" y="938.5" font-size="10" fill="#000" textLength="48.0" lengthAdjust="spacingAndGlyphs">3 Aug 04:00</text>
<rect x="377" y="926" width="1" height="3" fill="#000"/>
<text x="376.5" y="938.5" font-size="10" fill="#000" textLength="48.0" lengthAdjust="spacingAndGlyphs">4 Aug 12:00</text>
<rect x="441" y="926" width="1" height="3" fill="#000"/>
<text x="440.5" y="938.5" font-size="10" fill="#000" textLength="48.0" lengthAdjust="spacingAndGlyphs">5 Aug 20:00</text>
<rect x="505" y="926" width="1" height="3" fill="#000"/>
<text x="504.5" y="938.5" font-size="10" fill="#000" textLength="48.0" lengthAdjust="spacingAndGlyphs">9 Aug 04:00</text>
<rect x="569" y="926" width="1" height="3" fill="#000"/>
<text x="568.5" y="938.5" font-size="10" fill="#000" textLength="53.0" lengthAdjust="spacingAndGlyphs">10 Aug 12:00</text>
<rect x="633" y="926" width="1" height="3" fill="#000"/>
<text x="632.5" y="938.5" font-size="10" fill="#000" textLength="52.4" lengthAdjust="spacingAndGlyphs">11 Aug 20:00</text>
<rect x="697" y="926" width="1" height="3" fill="#000"/>
<text x="696.5" y="938.5" font-size="10" fill="#000" textLength="53.0" lengthAdjust="spacingAndGlyphs">13 Aug 04:00</text>
<rect x="761" y="926" width="1" height="3" fill="#000"/>
<text x="760.5" y="938.5" font-size="10" fill="#000" textLength="53.0" lengthAdjust="spacingAndGlyphs">16 Aug 12:00</text>
<rect x="825" y="926" width="1" height="3" fill="#000"/>
<text x="824.5" y="938.5" font-size="10" fill="#000" textLength="53.0" lengthAdjust="spacingAndGlyphs">17 Aug 20:00</text>
<rect x="889" y="926" width="1" height="3" fill="#000"/>
<text x="888.5" y="938.5" font-size="10" fill="#000" textLength="53.0" lengthAdjust="spacingAndGlyphs">19 Aug 04:00</text>
<rect x="953" y="926" width="1" height="3" fill="#000"/>
<text x="952.5" y="938.5" font-size="10" fill="#000" textLength="53.0" lengthAdjust="spacingAndGlyphs">20 Aug 12:00</text>
<rect x="1017" y="926" width="1" height="3" fill="#000"/>
<text x="1016.5" y="938.5" font-size="10" fill="#000" textLength="53.0" lengthAdjust="spacingAndGlyphs">23 Aug 20:00</text>
<rect x="1081" y="926" width="1" height="3" fill="#000"/>
<text x="1080.5" y="938.5" font-size="10" fill="#000" textLength="53.0" lengthAdjust="spacingAndGlyphs">25 Aug 04:00</text>
<rect x="1145" y="926" width="1" height="3" fill="#000"/>
<text x="1144.5" y="938.5" font-size="10" fill="#000" textLength="53.0" lengthAdjust="spacingAndGlyphs">26 Aug 12:00</text>
<rect x="1209" y="926" width="1" height="3" fill="#000"/>
<text x="1208.5" y="938.5" font-size="10" fill="#000" textLength="53.0" lengthAdjust="spacingAndGlyphs">29 Aug 23:00</text>
<rect x="1273" y="926" width="1" height="3" fill="#000"/>
<text x="1272.5" y="938.5" font-size="10" fill="#000" textLength="53.0" lengthAdjust="spacingAndGlyphs">31 Aug 04:00</text>
<rect x="1337" y="926" width="1" height="3" fill="#000"/>
<text x="1336.5" y="938.5" font-size="10" fill="#000" textLength="48.5" lengthAdjust="spacingAndGlyphs">1 Sep 12:00</text>
<rect x="1401" y="926" width="1" height="3" fill="#000"/>
<text x="1400.5" y="938.5" font-size="10" fill="#000" textLength="48.5" lengthAdjust="spacingAndGlyphs">2 Sep 20:00</text>
</g>
<g font-family="Liberation Sans, sans-serif"><text x="8.4" y="36.4" font-size="10" fill="#000" textLength="200.2" lengthAdjust="spacingAndGlyphs">USDJPY-,H4&#160;&#160;109.640 109.653 109.590 109.622</text></g>
<path d="M0 30 l3 3.5 h-3z" fill="#000"/>
<rect x="0" y="43" width="217" height="60" fill="#fff"/>
<rect x="0" y="44" width="48" height="24" fill="url(#gBtn)"/><rect x="0" y="44" width="48" height="1" fill="#cc2020"/><rect x="47" y="44" width="1" height="24" fill="#c81c1c"/>
<rect x="163" y="44" width="52" height="24" fill="url(#gBtn)"/><rect x="163" y="44" width="52" height="1" fill="#cc2020"/><rect x="163" y="44" width="1" height="24" fill="#c81c1c"/>
<rect x="0" y="68" width="105" height="33" fill="url(#gBig)"/>
<rect x="107" y="68" width="108" height="33" fill="url(#gBig)"/>
<rect x="0" y="67" width="44" height="1" fill="#a00808"/><rect x="0" y="68" width="44" height="1" fill="#f08a8a"/>
<rect x="167" y="67" width="44" height="1" fill="#a00808"/><rect x="167" y="68" width="44" height="1" fill="#f08a8a"/>
<text x="21" y="60.3" font-family="Liberation Sans, sans-serif" font-size="12" fill="#fff" text-anchor="middle" textLength="25.5" lengthAdjust="spacingAndGlyphs">SELL</text>
<text x="188" y="60.3" font-family="Liberation Sans, sans-serif" font-size="12" fill="#fff" text-anchor="middle" textLength="22" lengthAdjust="spacingAndGlyphs">BUY</text>
<rect x="50.5" y="44.5" width="110" height="21" fill="#fff" stroke="#a9b0bd" stroke-width="1"/>
<rect x="52" y="46" width="19" height="18" fill="url(#gSpin)" stroke="#b8bcc4" stroke-width="1"/>
<rect x="140" y="46" width="19" height="18" fill="url(#gSpin)" stroke="#b8bcc4" stroke-width="1"/>
<path d="M58 53h6l-3 3z" fill="#4a5fc0"/>
<path d="M146.5 56h6l-3 -3z" fill="#4a5fc0"/>
<text x="136" y="59" font-family="Liberation Sans, sans-serif" font-size="12" fill="#000" text-anchor="end">1.00</text>
<g fill="#fff" font-family="Liberation Sans, sans-serif">
<text x="19.3" y="95.8" font-size="11.8" font-weight="bold" textLength="20" lengthAdjust="spacingAndGlyphs">109</text>
<text x="43.6" y="96" font-size="33" textLength="33.4" lengthAdjust="spacingAndGlyphs">62</text>
<text x="83" y="80" font-size="12.5" font-weight="bold">2</text>
<text x="129.6" y="95.8" font-size="11.8" font-weight="bold" textLength="20" lengthAdjust="spacingAndGlyphs">109</text>
<text x="154" y="96" font-size="33" textLength="33.4" lengthAdjust="spacingAndGlyphs">63</text>
<text x="193.5" y="80" font-size="12.5" font-weight="bold">7</text>
</g>
<rect x="0" y="0" width="1698" height="20" fill="#f0f0f0"/>
<rect x="0" y="20" width="1698" height="2" fill="url(#gTb)"/>
<rect x="0" y="6.5" width="1" height="5.5" fill="#78a8e8"/><path d="M0 12.4l2-.2l2.8 3.4l-1.2 2.4l-3.6-.6z" fill="#d8ac38" stroke="#9a7418" stroke-width=".5"/><path d="M0 18.5l1.5-1l1.2 1.4" stroke="#202020" stroke-width=".8" fill="none"/>
<rect x="12" y="1" width="1" height="17" fill="#a8a8a8"/>
<path d="M22.5 1.5h7l3 3v8.5h-10z" fill="#fff" stroke="#707070" stroke-width="1"/><path d="M29.5 1.5v3h3" fill="none" stroke="#707070" stroke-width="1"/><path d="M24.5 5.5h4M24.5 7.5h5M24.5 9.5h3" stroke="#909090" stroke-width="1"/>
<path d="M30.5 7.2h3.4v3.4h3.4v3.4h-3.4v3.4h-3.4v-3.4h-3.4v-3.4h3.4z" fill="url(#gGreen)" stroke="#0a7a0a" stroke-width=".8"/>
<text x="41" y="11" font-family="'Liberation Sans', 'Noto Sans CJK SC', sans-serif" font-size="12" fill="#000" textLength="35.5" lengthAdjust="spacingAndGlyphs">新订单</text>
<path d="M89.5 9.5l7-7.5l8.5 6l-6 7.5z" fill="url(#gYel)" stroke="#b07808" stroke-width=".8"/><path d="M89.5 9.5l.5 2l9 5.5l6-7.5l-.3-1.5l-5.7 7.5z" fill="#c89018" stroke="#9a6a08" stroke-width=".6"/>
<rect x="120.5" y="1" width="9" height="10" fill="url(#gBlue)" stroke="#2a6ad0" stroke-width=".8"/><path d="M122 3.5h6M122 6h6" stroke="#e8f2ff" stroke-width="1.2"/><path d="M118 15.3a2.6 2.6 0 0 1 .6-5.1a3.6 3.6 0 0 1 6.8-.8a3 3 0 0 1 5.4 1.8a2.2 2.2 0 0 1-.4 4.1z" fill="#e4eefa" stroke="#7aa0d0" stroke-width=".8"/>
<path d="M153 0.6a7.4 7.4 0 0 0 0 14.8" fill="none" stroke="#a8bcec" stroke-width="1.3"/><path d="M153 0.6a7.4 7.4 0 0 1 0 14.8" fill="none" stroke="#a4cca4" stroke-width="1.3"/><path d="M153 3.2a4.8 4.8 0 0 0 0 9.6" fill="none" stroke="#5878d4" stroke-width="1.4"/><path d="M153 3.2a4.8 4.8 0 0 1 0 9.6" fill="none" stroke="#5aa85a" stroke-width="1.4"/><path d="M153 8v7.4" stroke="#28a028" stroke-width="1.4"/><circle cx="153" cy="7.6" r="1.7" fill="#2858c8"/>
<path d="M172.8 7.5h14.6l-6.2 7.9l-3.8-1.4z" fill="#f8d850" stroke="#c8a020" stroke-width=".7"/><ellipse cx="180" cy="5" rx="7.9" ry="2.8" fill="#58a6e0" stroke="#3a80c4" stroke-width=".6"/><ellipse cx="180" cy="2.6" rx="3.4" ry="2.7" fill="#74baee"/><circle cx="184.7" cy="11.6" r="3.9" fill="#e02c18"/><rect x="183.2" y="10.2" width="3" height="2.9" fill="#fff"/>
<text x="194.5" y="11" font-family="'Liberation Sans', 'Noto Sans CJK SC', sans-serif" font-size="12" fill="#000" textLength="46" lengthAdjust="spacingAndGlyphs">自动交易</text>
<rect x="248" y="1" width="1" height="17" fill="#a8a8a8"/>
<path d="M252 1.5h4M252 3.5h4M252 5.5h4M252 7.5h4M252 9.5h4M252 11.5h4M252 13.5h4M252 15.5h4M252 17.5h4" stroke="#b4b4b4" stroke-width="1" fill="none"/>
<path d="M266.4 3V16M263.9 13.5H276.4" stroke="#505050" stroke-width="1.3" fill="none"/><path d="M264.8 4.2l1.6-2.4l1.6 2.4zM275.6 11.9l2.2 1.6l-2.2 1.6z" fill="#505050"/><path d="M272.5 3.2v8.5M272.5 4.2h2.5M270 10.3h2.5" stroke="#0c8a0c" stroke-width="1.3" fill="none"/>
<rect x="286" y="0" width="26" height="19" fill="#f8f8f8"/><rect x="286" y="0" width="1" height="19" fill="#b0b0b0"/>
<path d="M294.4 3V16M291.9 13.5H304.4" stroke="#505050" stroke-width="1.3" fill="none"/><path d="M292.8 4.2l1.6-2.4l1.6 2.4zM303.6 11.9l2.2 1.6l-2.2 1.6z" fill="#505050"/><path d="M300.6 0v11.7" stroke="#108010" stroke-width="1.2"/><rect x="298.6" y="2.5" width="4" height="7" fill="#50e850" stroke="#0c8a0c" stroke-width="1.1"/>
<path d="M322.4 3V16M319.9 13.5H332.4" stroke="#505050" stroke-width="1.3" fill="none"/><path d="M320.8 4.2l1.6-2.4l1.6 2.4zM331.6 11.9l2.2 1.6l-2.2 1.6z" fill="#505050"/><path d="M321 10.6Q324.5 4.8 327 5.3T332.6 9.3" stroke="#2a9a2a" stroke-width="1.2" fill="none"/>
<rect x="343" y="1" width="1" height="17" fill="#a8a8a8"/>
<path d="M361.0 9.5l6 5.8" stroke="#c8a028" stroke-width="2.6" stroke-linecap="round"/><path d="M361.3 9.5l6 5.8" stroke="#f0d868" stroke-width="1" stroke-linecap="round"/>
<circle cx="358.0" cy="6.2" r="4.8" fill="url(#gLens)" stroke="#3a7ad0" stroke-width="1.3"/>
<path d="M355.2 6.2h5.6M358.0 3.4v5.6" stroke="#3a78d0" stroke-width="1.6"/>
<path d="M389.3 9.5l6 5.8" stroke="#c8a028" stroke-width="2.6" stroke-linecap="round"/><path d="M389.6 9.5l6 5.8" stroke="#f0d868" stroke-width="1" stroke-linecap="round"/>
<circle cx="386.3" cy="6.2" r="4.8" fill="url(#gLens)" stroke="#3a7ad0" stroke-width="1.3"/>
<path d="M383.5 6.2h5.6" stroke="#3a78d0" stroke-width="1.6"/>
<rect x="408.0" y="0.0" width="7.5" height="7.5" fill="#58b838"/><rect x="408.0" y="0.0" width="7.5" height="2" fill="#2a8818"/><rect x="409.5" y="3.4" width="4.5" height="2.6" fill="#eef4ff"/>
<rect x="416.5" y="0.0" width="7.5" height="7.5" fill="#3a78e0"/><rect x="416.5" y="0.0" width="7.5" height="2" fill="#1848b8"/><rect x="418.0" y="3.4" width="4.5" height="2.6" fill="#eef4ff"/>
<rect x="408.0" y="8.0" width="7.5" height="7.5" fill="#3a78e0"/><rect x="408.0" y="8.0" width="7.5" height="2" fill="#1848b8"/><rect x="409.5" y="11.4" width="4.5" height="2.6" fill="#eef4ff"/>
<rect x="416.5" y="8.0" width="7.5" height="7.5" fill="#58b838"/><rect x="416.5" y="8.0" width="7.5" height="2" fill="#2a8818"/><rect x="418.0" y="11.4" width="4.5" height="2.6" fill="#eef4ff"/>
<rect x="433" y="1" width="1" height="17" fill="#a8a8a8"/>
<rect x="438" y="0" width="26" height="19" fill="#f8f8f8"/><rect x="438" y="0" width="1" height="19" fill="#b0b0b0"/>
<path d="M446.4 3V16M443.9 13.5H456.4" stroke="#505050" stroke-width="1.3" fill="none"/><path d="M444.8 4.2l1.6-2.4l1.6 2.4zM455.6 11.9l2.2 1.6l-2.2 1.6z" fill="#505050"/><path d="M451.2 4.5l4.3 3.3l-4.3 3.3z" fill="#38c838" stroke="#108010" stroke-width=".8"/>
<rect x="465" y="1" width="1" height="17" fill="#a8a8a8"/>
<rect x="466" y="0" width="25" height="19" fill="#f8f8f8"/><rect x="466" y="0" width="1" height="19" fill="#b0b0b0"/>
<path d="M474.4 3V16M471.9 13.5H484.4" stroke="#505050" stroke-width="1.3" fill="none"/><path d="M472.8 4.2l1.6-2.4l1.6 2.4zM483.6 11.9l2.2 1.6l-2.2 1.6z" fill="#505050"/><path d="M480.5 2.5v10" stroke="#2858b0" stroke-width="1.2"/><path d="M481.5 7.5l3.5-2.6v1.9h1.5v1.4h-1.5v1.9z" fill="#d83018"/>
<rect x="495" y="1" width="1" height="17" fill="#a8a8a8"/>
<path d="M505.5 2.5h5l2 2v8h-7z" fill="#fff" stroke="#707070" stroke-width=".9"/><path d="M508.5 0.8h5.5l2.5 2.5v8h-1" fill="none" stroke="#707070" stroke-width=".9"/><path d="M508 6.5h3M507.5 4.5q1.5-1 1.8 1v4.5" stroke="#606060" stroke-width=".8" fill="none"/>
<path d="M513.6 6.6h3.4v3.4h3.4v3.4h-3.4v3.4h-3.4v-3.4h-3.4v-3.4h3.4z" fill="url(#gGreen)" stroke="#0a7a0a" stroke-width=".8"/>
<path d="M526.8 7h5.4l-2.7 3z" fill="#000"/>
<circle cx="551" cy="7.8" r="7.5" fill="#2a6ce0" stroke="#1848b0" stroke-width=".8"/><circle cx="551" cy="7.6" r="5.3" fill="#f6faff"/><path d="M551 4.5v3.6h2.6" stroke="#303030" stroke-width="1" fill="none"/><path d="M546 13.8q5 2.4 10 0" stroke="#6aa0f0" stroke-width="1" fill="none"/>
<path d="M565.8 7h5.4l-2.7 3z" fill="#000"/>
<rect x="582.5" y="1.5" width="15" height="13" fill="#fff" stroke="#2a68d0" stroke-width="1.2"/><rect x="582.5" y="1.5" width="15" height="2.2" fill="#4a88e8"/><path d="M582.5 8.6h15" stroke="#3a78d8" stroke-width="1"/><path d="M584.5 7l2.5-1.2l2 .4l2-1.2l2 .3l2.5-1.2" stroke="#b02010" stroke-width="1.1" fill="none"/><path d="M584.5 12.8l2.5-1.2l2 .6l2.5-2l2 1.6l1.5-.6" stroke="#18901a" stroke-width="1.1" fill="none"/>
<path d="M604.8 7h5.4l-2.7 3z" fill="#000"/>
<rect x="616" y="1" width="1" height="17" fill="#a8a8a8"/>
<path d="M619 1.5h4M619 3.5h4M619 5.5h4M619 7.5h4M619 9.5h4M619 11.5h4M619 13.5h4M619 15.5h4M619 17.5h4" stroke="#b4b4b4" stroke-width="1" fill="none"/>
<rect x="627" y="0" width="24" height="19" fill="#f8f8f8"/><rect x="627" y="0" width="1" height="19" fill="#b0b0b0"/>
<path d="M634 1.5v12l2.8-2.6l2 4.2l1.8-.8l-2-4.2h3.8z" fill="#404040"/>
<path d="M666.5 0.8v14.8M659 8.5h15" stroke="#404040" stroke-width="1.1"/><rect x="665" y="7" width="3" height="3" fill="#f0f0f0"/><rect x="666" y="8" width="1" height="1" fill="#404040"/>
<rect x="683" y="1" width="1" height="17" fill="#a8a8a8"/>
<path d="M700.5 2v13" stroke="#404040" stroke-width="1.1"/>
<path d="M723 8.5h12" stroke="#404040" stroke-width="1.1"/>
<path d="M750.5 14.7L763 3" stroke="#404040" stroke-width="1.1"/>
<path d="M776.6 10L789 0M781.3 14.6L790.3 6.6M778.5 6.5v5M781 5v6.5M783.5 3v6.5M786 1v6M788.5 0v5" stroke="#404040" stroke-width="1" fill="none"/><path d="M788.5 12.5h3v1h-2v.8h1.8v1h-1.8v.8h2v1h-3z" fill="#303030"/>
<path d="M806 1.5h13M806 4.5h13M806 8.5h13M806 12.5h9" stroke="#505050" stroke-width="1" stroke-dasharray="1,1" shape-rendering="crispEdges"/><path d="M816 12.5h3.2v1h-2.2v.9h1.9v1h-1.9v1.7h-1z" fill="#303030"/>
<text x="836.5" y="12.8" font-family="Liberation Sans, sans-serif" font-size="12" fill="#484848" stroke="#484848" stroke-width=".3">A</text>
<rect x="863.5" y="2.5" width="11" height="12" fill="none" stroke="#505050" stroke-width="1" stroke-dasharray="1,1" shape-rendering="crispEdges"/><path d="M862.5 1.5h2" stroke="#404040" stroke-width="1"/><path d="M865 5.8h7.7M868.85 5.8v7" stroke="#404040" stroke-width="1.4"/>
<path d="M890.2 5.6l3.3-3.7l3.3 3.7l-1.4 1h-3.8zM896.8 10.8l1.9-1h3.8l1.9 1l-3.8 4.1z" fill="#404040"/><path d="M892 9.4l2.4 2.4l4.2-5.2" stroke="#404040" stroke-width="1.3" fill="none"/>
<path d="M911.0 7h5.4l-2.7 3z" fill="#000"/>
<rect x="922" y="1" width="1" height="17" fill="#a8a8a8"/>
<path d="M926 1.5h4M926 3.5h4M926 5.5h4M926 7.5h4M926 9.5h4M926 11.5h4M926 13.5h4M926 15.5h4M926 17.5h4" stroke="#b4b4b4" stroke-width="1" fill="none"/>
<rect x="1072" y="0" width="25" height="19" fill="#f8f8f8"/><rect x="1072" y="0" width="1" height="19" fill="#b0b0b0"/>
<g font-family="Liberation Sans, sans-serif" font-size="10" fill="#404040" text-anchor="middle">
<text x="944.0" y="12.2">M1</text>
<text x="972.0" y="12.2">M5</text>
<text x="1000.0" y="12.2">M15</text>
<text x="1028.3" y="12.2">M30</text>
<text x="1056.5" y="12.2">H1</text>
<text x="1083.5" y="12.2">H4</text>
<text x="1112.0" y="12.2">D1</text>
<text x="1141.0" y="12.2">W1</text>
<text x="1167.5" y="12.2">MN</text>
</g>
<rect x="1183" y="1" width="1" height="17" fill="#a8a8a8"/>
<path d="M1652.5 7.8l-5 4.6" stroke="#2a58c8" stroke-width="2.4" stroke-linecap="round"/><circle cx="1655" cy="5.2" r="3.4" fill="#f4f8ff" stroke="#2a62d0" stroke-width="1.2"/>
<path d="M1670.5 10.5a5 4 0 0 1 5-4.5h5a5 4 0 0 1 0 8.5h-5l-2.2 2.2v-2.4a5 4 0 0 1-2.8-3.8z" fill="#eef0f4" stroke="#b8bcc4" stroke-width=".8"/>
<circle cx="1684.7" cy="6" r="7.6" fill="url(#gRed)"/><text x="1684.7" y="10.3" font-family="Liberation Sans, sans-serif" font-size="11" fill="#fff" text-anchor="middle">1</text>
</svg></body></html>
